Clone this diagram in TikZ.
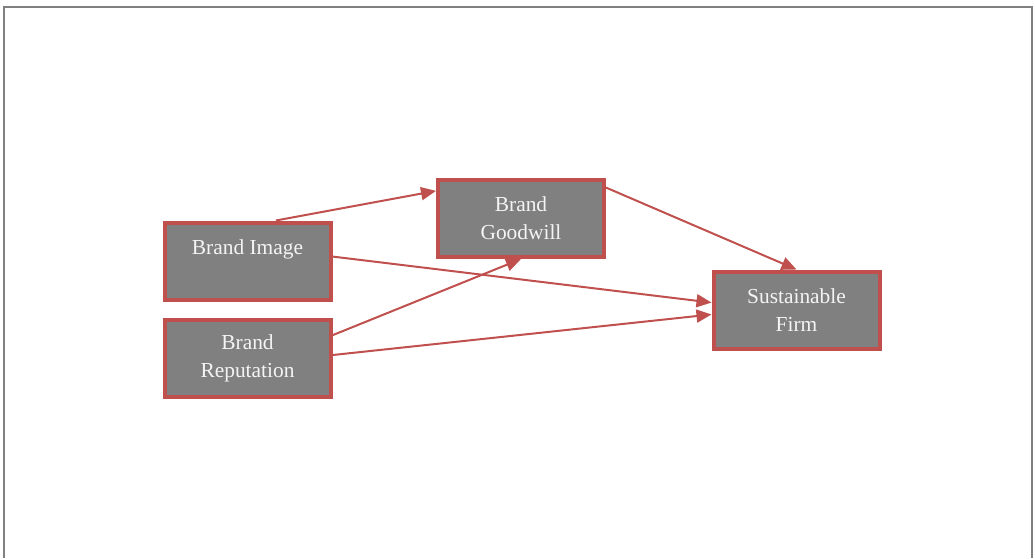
\documentclass[tikz,border=0pt]{standalone}
\usepackage{fontspec}
\setmainfont{Liberation Serif}
\usepackage{tikz}
\usetikzlibrary{arrows.meta, positioning}
\definecolor{boxred}{HTML}{C0504D}
\definecolor{boxgray}{HTML}{808080}
\definecolor{boxtext}{HTML}{F4F4F4}
\tikzset{
	block/.style={draw=boxred, line width=4pt, fill=boxgray, rectangle, minimum width=166pt, minimum height=77pt, align=center, text=boxtext, font=\fontsize{21.4}{28}\selectfont},
	link/.style={draw=boxred, line width=2pt, -{Triangle[length=15pt, width=13pt]}}
}

\begin{document}
\begin{tikzpicture}[x=1pt, y=-1pt]
			\useasboundingbox (0,0) rectangle (1035,558);
			\draw[boxgray, line width=1.5pt] (4,558) -- (4,7) -- (1032,7) -- (1032,558);
			\node[block] (image) at (247.5,261) {Brand Image\\\mbox{}};
			\node[block] (reputation) at (247.5,358) {Brand\\Reputation};
			\node[block] (goodwill) at (521,218.5) {Brand\\Goodwill};
			\node[block] (firm) at (796.5,310) {Sustainable\\Firm};
			\draw[link] (image.55) -- (goodwill.162);
			\draw[link] (image.3) -- (firm.175);
			\draw[link] (reputation.15) -- (goodwill.south);
			\draw[link] (reputation.2) -- (firm.183);
			\draw[link] (goodwill.20) -- (firm.north);
\end{tikzpicture}
\end{document}
